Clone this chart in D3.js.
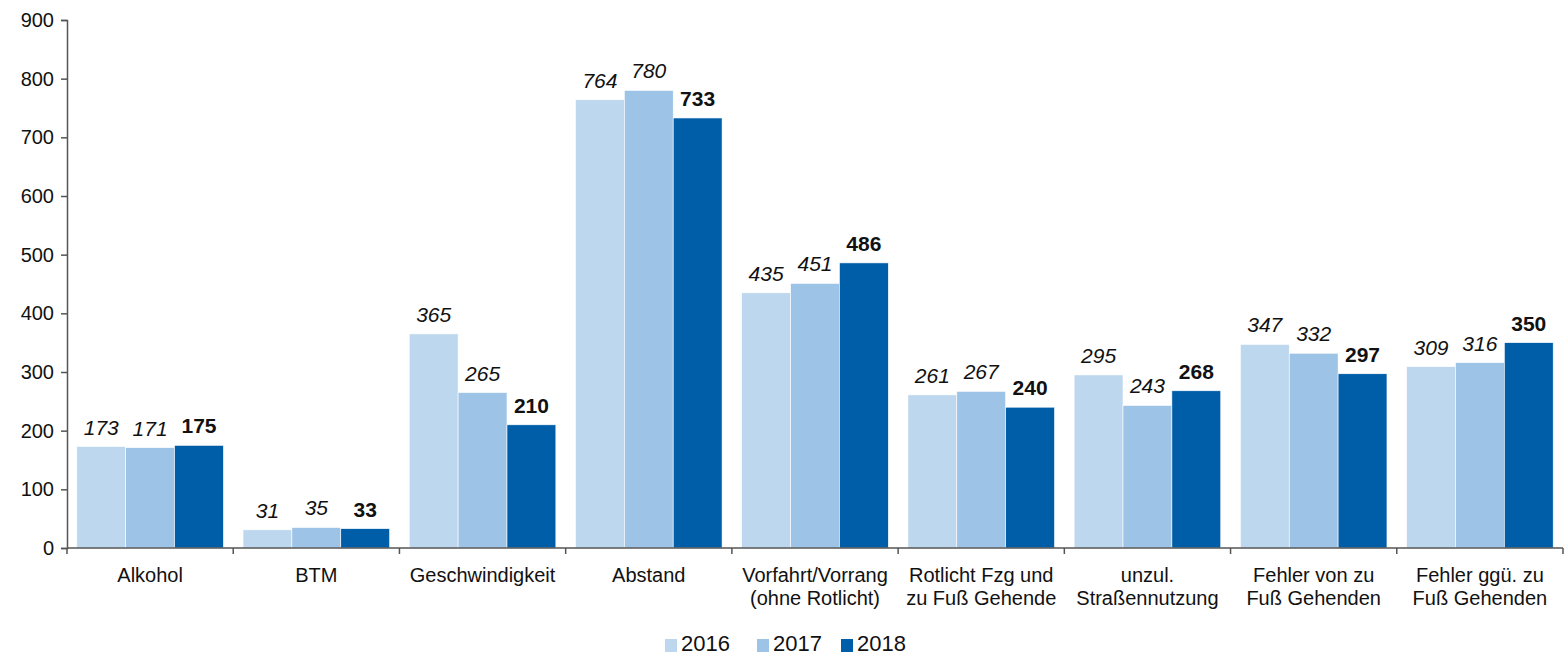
<!DOCTYPE html>
<html>
<head>
<meta charset="utf-8">
<script src="https://cdn.jsdelivr.net/npm/d3@7"></script>
<style>
  body { margin: 0; background: #fff; }
  svg { display: block; font-family: "Liberation Sans", Arial, sans-serif; }
</style>
</head>
<body>
<svg id="chart" width="1564" height="656"></svg>
<script>
// categories (line breaks as in the original)
const categories = [
  ["Alkohol"],
  ["BTM"],
  ["Geschwindigkeit"],
  ["Abstand"],
  ["Vorfahrt/Vorrang", "(ohne Rotlicht)"],
  ["Rotlicht Fzg und", "zu Fuß Gehende"],
  ["unzul.", "Straßennutzung"],
  ["Fehler von zu", "Fuß Gehenden"],
  ["Fehler ggü. zu", "Fuß Gehenden"]
];
const years = ["2016", "2017", "2018"];
const values2016 = [173, 31, 365, 764, 435, 261, 295, 347, 309];
const values2017 = [171, 35, 265, 780, 451, 267, 243, 332, 316];
const values2018 = [175, 33, 210, 733, 486, 240, 268, 297, 350];
const yTicks = [0, 100, 200, 300, 400, 500, 600, 700, 800, 900];

const colors = ["#bdd7ee", "#9dc3e6", "#005ea8"];
const series = [values2016, values2017, values2018];

const svg = d3.select("svg#chart");
const margin = {top: 20, right: 1, bottom: 108, left: 67};
const width = 1564 - margin.left - margin.right;
const height = 656 - margin.top - margin.bottom;

const g = svg.append("g").attr("transform", `translate(${margin.left},${margin.top})`);

const x0 = d3.scaleBand().domain(d3.range(categories.length)).range([0, width]).paddingInner(0.118).paddingOuter(0.059);
const band = d3.scaleBand().domain(d3.range(categories.length)).range([0, width]);
const x1 = d3.scaleBand().domain(years).range([0, x0.bandwidth()]);
const y = d3.scaleLinear().domain([0, 900]).range([height, 0]);

// bars
years.forEach((yr, si) => {
  g.append("g")
    .selectAll("rect")
    .data(series[si])
    .join("rect")
    .attr("x", (d, i) => x0(i) + x1(yr))
    .attr("y", d => y(d))
    .attr("width", x1.bandwidth())
    .attr("height", d => y(0) - y(d))
    .attr("fill", colors[si])
    .attr("stroke", "#fff")
    .attr("stroke-width", 0.6);

  g.append("g")
    .selectAll("text")
    .data(series[si])
    .join("text")
    .attr("x", (d, i) => x0(i) + x1(yr) + x1.bandwidth() / 2)
    .attr("y", d => y(d) - 12)
    .attr("text-anchor", "middle")
    .style("font-size", "21px")
    .style("font-style", si < 2 ? "italic" : "normal")
    .style("font-weight", si === 2 ? "bold" : "normal")
    .attr("fill", "#111")
    .text(d => d);
});

// y axis
const yAxis = g.append("g")
  .call(d3.axisLeft(y).tickValues(yTicks).tickSize(6).tickPadding(7));
yAxis.selectAll("text").style("font-size", "20px").attr("fill", "#111");
yAxis.select(".domain").attr("stroke", "#555").attr("stroke-width", 1.5);
yAxis.selectAll(".tick line").attr("stroke", "#555").attr("stroke-width", 1.5);

// x axis: baseline with ticks at category boundaries
const xg = g.append("g").attr("transform", `translate(0,${height})`);
xg.append("line")
  .attr("x1", 0).attr("x2", width)
  .attr("stroke", "#555").attr("stroke-width", 1.5);
xg.selectAll("line.tk")
  .data(d3.range(categories.length + 1))
  .join("line")
  .attr("class", "tk")
  .attr("x1", i => i * band.step()).attr("x2", i => i * band.step())
  .attr("y1", 0).attr("y2", 6)
  .attr("stroke", "#555").attr("stroke-width", 1.5);

xg.selectAll("text")
  .data(categories)
  .join("text")
  .attr("text-anchor", "middle")
  .attr("fill", "#111")
  .style("font-size", "20px")
  .attr("transform", (d, i) => `translate(${band(i) + band.bandwidth() / 2},34)`)
  .each(function(d) {
    d3.select(this).selectAll("tspan")
      .data(d)
      .join("tspan")
      .attr("x", 0)
      .attr("dy", (t, j) => j === 0 ? 0 : 23)
      .text(t => t);
  });

// legend
const legend = svg.append("g").attr("transform", "translate(665,0)");
const legendX = [0, 92, 176];
years.forEach((yr, i) => {
  legend.append("rect")
    .attr("x", legendX[i]).attr("y", 639)
    .attr("width", 12).attr("height", 13)
    .attr("fill", colors[i]);
  legend.append("text")
    .attr("x", legendX[i] + 16).attr("y", 651)
    .style("font-size", "22px")
    .attr("fill", "#111")
    .text(yr);
});
</script>
</body>
</html>
